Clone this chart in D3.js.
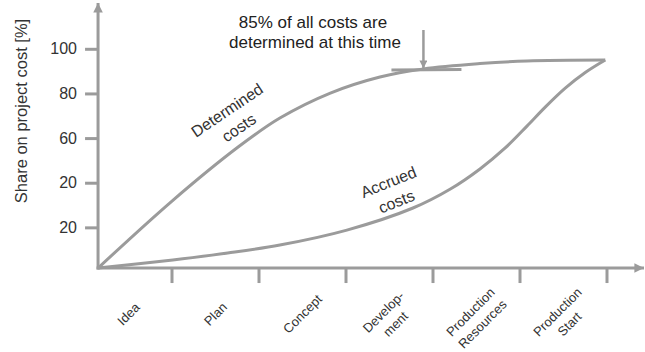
<!DOCTYPE html>
<html>
<head>
<meta charset="utf-8">
<script src="https://cdn.jsdelivr.net/npm/d3@7"></script>
<style>
  html, body { margin: 0; padding: 0; background: #fff; }
  svg { display: block; font-family: "Liberation Sans", Arial, sans-serif; }
</style>
</head>
<body>
<div id="chart"></div>
<script>
// project phases (one band each between the x ticks)
const categories = [
  ['Idea'], ['Plan'], ['Concept'],
  ['Develop-', 'ment'], ['Production', 'Resources'], ['Production', 'Start']
];
const yTicks = [100, 80, 60, 40, 20];
const yTickLabels = ['100', '80', '60', '20', '20'];

// curves: x in phase units, y in % of project cost
const determinedPhase = [0.15, 1.0, 1.76, 2.24, 2.82, 3.39, 3.89, 4.54, 5.08, 5.98];
const determinedShare = [2, 32, 56.2, 69.2, 80.4, 87.6, 91.2, 93.6, 94.8, 95.2];
const accruedPhase = [0.15, 1.01, 1.64, 2.24, 3.01, 3.77, 4.2, 4.54, 4.83, 5.08, 5.29, 5.52, 5.75, 5.98];
const accruedShare = [2, 5.6, 8.7, 12.3, 19, 28.9, 37.4, 46.4, 55.8, 65.6, 74.1, 82.6, 89.6, 95.2];

const markPhase = 3.89; // "85% ... at this time"
const markShare = 91.2;

const width = 645, height = 352;
const grey = '#9b9b9b';
const textCol = '#333';

const svg = d3.select('#chart').append('svg')
  .attr('width', width)
  .attr('height', height);

const x = d3.scaleLinear().domain([0, 6]).range([85, 607]);
const y = d3.scaleLinear().domain([0, 100]).range([272.5, 49.3]);

const x0 = x(0.15);
const y0 = y(2);

// arrowhead
svg.append('defs').append('marker')
  .attr('id', 'arr')
  .attr('viewBox', '0 0 10 10')
  .attr('refX', 10).attr('refY', 5)
  .attr('markerWidth', 3.4).attr('markerHeight', 3.2)
  .attr('markerUnits', 'strokeWidth')
  .attr('orient', 'auto')
  .append('path')
  .attr('d', 'M0,0L10,5L0,10Z')
  .attr('fill', grey);

// axes
svg.append('line')
  .attr('x1', x0).attr('y1', y0 + 1.5)
  .attr('x2', x0).attr('y2', 3)
  .attr('stroke', grey).attr('stroke-width', 3)
  .attr('marker-end', 'url(#arr)');

svg.append('line')
  .attr('x1', x0 - 1.5).attr('y1', y0)
  .attr('x2', 644).attr('y2', y0)
  .attr('stroke', grey).attr('stroke-width', 3)
  .attr('marker-end', 'url(#arr)');

// y ticks
const yt = svg.append('g');
yt.selectAll('line')
  .data(yTicks)
  .enter()
  .append('line')
  .attr('x1', x0 - 13).attr('x2', x0)
  .attr('y1', d => y(d)).attr('y2', d => y(d))
  .attr('stroke', grey).attr('stroke-width', 3);

yt.selectAll('text')
  .data(yTicks)
  .enter()
  .append('text')
  .attr('x', 77)
  .attr('y', d => y(d))
  .attr('dy', '0.32em')
  .attr('text-anchor', 'end')
  .style('font-size', '16px')
  .attr('fill', textCol)
  .text((d, i) => yTickLabels[i]);

// x ticks
svg.append('g').selectAll('line')
  .data(d3.range(1, categories.length + 1))
  .enter()
  .append('line')
  .attr('x1', d => x(d)).attr('x2', d => x(d))
  .attr('y1', y0).attr('y2', y0 + 15)
  .attr('stroke', grey).attr('stroke-width', 3);

// phase labels, rotated
const lh = 17;
const xl = svg.append('g').selectAll('text')
  .data(categories)
  .enter()
  .append('text')
  .attr('transform', (d, i) => `translate(${x(i + 0.5)}, ${d.length > 1 ? 318 : 314}) rotate(-45)`)
  .attr('text-anchor', 'middle')
  .style('font-size', '13px')
  .attr('fill', textCol);

xl.selectAll('tspan')
  .data(d => d.map((t, j) => ({ t, j, n: d.length })))
  .enter()
  .append('tspan')
  .attr('x', 0)
  .attr('y', d => (d.j - (d.n - 1) / 2) * lh + 4.5)
  .text(d => d.t);

// y axis title
svg.append('text')
  .attr('transform', 'translate(27, 111) rotate(-90)')
  .attr('text-anchor', 'middle')
  .style('font-size', '16.5px')
  .attr('fill', textCol)
  .text('Share on project cost [%]');

// curves
const line = d3.line()
  .x(d => x(d[0]))
  .y(d => y(d[1]))
  .curve(d3.curveCatmullRom.alpha(0.5));

const curves = [
  d3.zip(determinedPhase, determinedShare),
  d3.zip(accruedPhase, accruedShare)
];

svg.append('g').selectAll('path')
  .data(curves)
  .enter()
  .append('path')
  .attr('d', line)
  .attr('fill', 'none')
  .attr('stroke', grey)
  .attr('stroke-width', 3)
  .attr('stroke-linejoin', 'round');

// curve labels
const curveLabel = (cx, cy, angle, lines) => {
  const t = svg.append('text')
    .attr('transform', `translate(${cx}, ${cy}) rotate(${angle})`)
    .attr('text-anchor', 'middle')
    .style('font-size', '16px')
    .attr('fill', textCol);
  lines.forEach((s, j) => {
    t.append('tspan')
      .attr('x', 0)
      .attr('y', (j - 0.5) * 21 + 5.5)
      .text(s);
  });
};
curveLabel(233, 119, -34, ['Determined', 'costs']);
curveLabel(392.5, 192, -22, ['Accrued', 'costs']);

// marker: tangent bar + arrow
const mx = x(markPhase), my = y(markShare);
svg.append('line')
  .attr('x1', mx - 32).attr('x2', mx + 38)
  .attr('y1', my + 1).attr('y2', my + 0.5)
  .attr('stroke', grey).attr('stroke-width', 3);

svg.append('line')
  .attr('x1', mx).attr('x2', mx)
  .attr('y1', 30).attr('y2', my - 0.5)
  .attr('stroke', grey).attr('stroke-width', 2.5)
  .attr('marker-end', 'url(#arr)');

const note = svg.append('text')
  .attr('text-anchor', 'middle')
  .style('font-size', '17px')
  .attr('fill', '#222');
note.append('tspan').attr('x', 313).attr('y', 28).text('85% of all costs are');
note.append('tspan').attr('x', 315).attr('y', 48).text('determined at this time');
</script>
</body>
</html>
